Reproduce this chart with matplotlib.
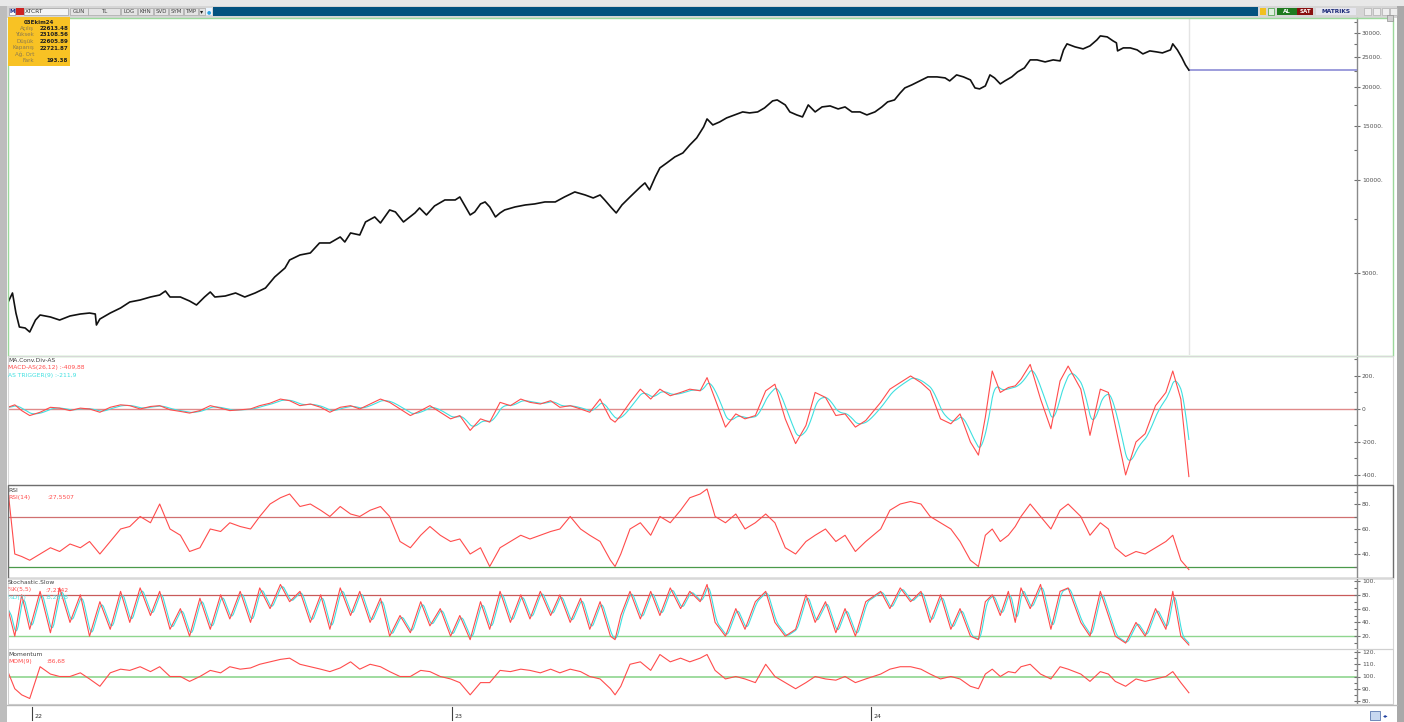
import matplotlib
matplotlib.use('Agg')
import matplotlib.pyplot as plt
import matplotlib.dates as mdates
from matplotlib.ticker import FixedLocator, NullFormatter
from matplotlib.patches import Rectangle
from matplotlib.lines import Line2D
import numpy as np
import pandas as pd

BASE = pd.Timestamp('2022-01-01')

# ---------------- data (days since 2022-01-01) ----------------
price_day = [-22,-17,-14,-11,-6,-2,3,7,16,24,
             33,42,50,55,56,59,68,77,85,94,
             103,111,116,120,129,137,143,150,155,159,
             168,177,185,194,203,211,220,224,233,242,
             246,250,259,268,272,277,285,290,298,303,
             311,316,323,333,337,343,350,359,368,372,
             377,381,385,390,394,398,403,407,411,420,
             429,437,446,455,463,472,481,488,494,498,
             504,508,513,520,529,533,537,542,546,552,
             559,566,572,578,584,587,592,598,604,611,
             618,624,631,637,644,648,655,659,665,670,
             675,681,687,694,701,707,713,720,726,733,
             739,744,750,755,759,765,772,779,787,794,
             798,804,810,816,820,824,829,833,837,842,
             846,852,857,863,868,874,881,888,894,897,
             900,907,914,920,926,929,935,940,943,944,
             949,955,961,966,972,978,983,990,992,996,
             1000,1003,1006]
price_close = [3938,4307,3709,3342,3317,3220,3520,3655,3601,3520,
               3628,3682,3709,3682,3392,3547,3709,3851,4027,4088,
               4180,4242,4371,4180,4180,4057,3938,4180,4339,4180,
               4211,4307,4180,4307,4470,4853,5190,5509,5719,5805,
               6026,6255,6255,6541,6301,6739,6639,7316,7595,7261,
               8002,7884,7316,7825,8122,7709,8244,8621,8621,8816,
               8183,7709,7884,8368,8494,8183,7595,7825,8002,8183,
               8306,8368,8494,8494,8816,9152,8948,8751,8948,8621,
               8122,7825,8306,8816,9500,9788,9289,10237,10949,11364,
               11885,12243,12993,13694,14866,15778,15088,15430,15898,16257,
               16625,16501,16625,17128,18048,18182,17516,16625,16257,16017,
               17516,16625,17257,17386,17000,17257,16625,16625,16257,16625,
               17257,17913,18182,19160,19884,20335,20952,21588,21588,21427,
               20952,21913,21588,21109,19884,19740,20183,21913,21427,20488,
               20952,21588,22408,23088,24508,24508,24144,24508,24325,26406,
               27621,27006,26604,27209,28450,29313,29095,28249,27829,26209,
               26804,26804,26406,25626,26209,26013,25819,26406,27621,26406,
               24878,23612,22721.87]

osc_day = [-21,-15,-9,-2,7,16,24,33,42,50,59,68,77,85,94,103,111,120,129,137,
           146,155,164,172,181,190,198,207,216,224,233,242,251,259,268,277,285,294,303,311,
           320,329,338,346,355,364,372,381,390,398,407,416,425,433,442,451,459,468,477,485,
           494,503,507,512,520,529,538,546,555,564,572,581,587,594,603,612,620,629,638,646,
           655,664,673,681,690,699,707,716,725,738,746,755,764,773,781,790,799,807,816,823,
           829,835,842,849,855,860,868,877,886,894,901,912,920,929,936,942,951,960,968,977,
           986,992,999,1006]
macd = [10,25,-10,-40,-20,10,5,-10,5,0,-20,10,25,20,0,15,20,-5,-15,-25,
        -10,20,5,-10,-5,0,20,35,60,50,20,30,10,-20,10,20,0,30,60,40,
        0,-40,-10,20,-20,-60,-40,-130,-60,-80,40,20,60,40,30,50,10,20,0,-20,
        60,-60,-80,-40,40,120,60,120,80,100,120,110,190,60,-110,-30,-60,-40,110,150,
        -60,-210,-100,100,70,-40,-30,-110,-70,40,120,160,200,160,110,-60,-90,-30,-200,-280,
        -50,230,100,130,140,180,270,60,-120,170,260,120,-160,120,100,-100,-400,-200,-150,20,
        100,230,60,-409.88]
rsi = [92,40,38,35,40,45,42,48,45,50,40,50,60,62,70,65,80,60,55,42,
       45,60,58,65,62,60,70,80,85,88,78,80,75,70,78,72,70,75,78,70,
       50,45,55,62,55,50,52,40,45,30,45,50,55,52,55,58,60,70,60,55,
       50,35,30,40,60,65,55,70,65,75,85,88,92,70,65,72,60,65,72,65,
       45,40,50,55,60,50,55,42,50,60,75,80,82,80,70,65,60,50,35,30,
       55,60,50,55,62,70,80,70,60,75,80,70,55,65,60,45,38,42,40,45,
       50,55,35,27.55]
stoch_k = [60,20,80,30,85,25,90,40,80,20,70,30,85,40,90,50,85,30,60,20,
           75,30,80,45,85,40,90,60,95,70,85,40,80,30,90,50,85,40,75,20,
           50,25,70,35,60,20,50,15,70,30,85,40,80,45,85,50,80,40,75,30,
           70,20,15,50,85,45,85,50,90,60,85,70,95,40,20,60,30,70,85,40,
           20,30,80,40,70,25,60,20,70,85,60,90,70,85,40,80,30,60,20,15,
           70,80,50,85,40,90,60,95,30,85,90,40,20,85,50,20,10,40,20,60,
           30,85,20,7.2142]
mom = [104,90,85,82,108,102,100,100,103,98,92,103,106,105,108,104,108,100,100,96,
       100,105,103,108,106,107,110,112,114,115,110,108,106,104,107,112,106,110,108,104,
       100,100,105,104,100,98,95,85,95,95,105,104,106,105,103,106,103,106,104,100,
       98,90,85,92,110,112,105,118,112,115,112,115,118,105,98,100,98,95,110,100,
       95,90,95,100,98,97,100,95,98,102,106,108,108,106,102,98,100,98,92,90,
       102,106,100,104,103,108,110,102,98,108,106,102,96,104,102,96,92,98,96,98,
       100,104,95,86.68]

info_date = '03Ekim24'
info_labels = ['Açılış', 'Yüksek', 'Düşük', 'Kapanış', 'Ağ. Ort', 'Fark']
info_values = ['22613.48', '23108.56', '22605.89', '22721.87', '', '193.38']
year_dates = ['2022-01-01', '2023-01-01', '2024-01-01']
year_labels = ['22', '23', '24']
price_ticks = [5000, 10000, 15000, 20000, 25000, 30000]
price_minor = [7500, 12500, 17500, 22500, 27500, 32500]

# ---------------- figure helpers ----------------
W, H = 1404, 722
fig = plt.figure(figsize=(W / 100, H / 100), dpi=100)
fig.patch.set_facecolor('white')


def frect(x0, y0, x1, y1, fc='none', ec='none', lw=0.8, z=0):
    r = Rectangle((x0 / W, 1 - y1 / H), (x1 - x0) / W, (y1 - y0) / H,
                  transform=fig.transFigure, facecolor=fc, edgecolor=ec,
                  linewidth=lw, zorder=z)
    fig.add_artist(r)


def fline(xs, ys, color, lw=1.0, z=5):
    fig.add_artist(Line2D([x / W for x in xs], [1 - y / H for y in ys],
                          transform=fig.transFigure, color=color, lw=lw, zorder=z))


def ftext(x, y, s, **kw):
    fig.text(x / W, 1 - y / H, s, **kw)


def to_dates(days):
    return BASE + pd.to_timedelta(np.asarray(days, dtype=float), unit='D')


XMIN = mdates.date2num(BASE + pd.Timedelta(days=-20.9))
XMAX = mdates.date2num(BASE + pd.Timedelta(days=1152.2))
L, R = 8, 1357
TICKC = '#707070'
LABC = '#505050'


def mkax(top, bot, ylim, ticks, labels, minor):
    ax = fig.add_axes([L / W, 1 - bot / H, (R - L) / W, (bot - top) / H])
    ax.patch.set_alpha(0)
    for s in ['left', 'top', 'bottom']:
        ax.spines[s].set_visible(False)
    ax.spines['right'].set_color('#8a8a8a')
    ax.spines['right'].set_linewidth(1.0)
    ax.set_xlim(XMIN, XMAX)
    ax.set_ylim(*ylim)
    ax.yaxis.tick_right()
    ax.yaxis.set_major_locator(FixedLocator(ticks))
    ax.set_yticklabels(labels)
    ax.yaxis.set_minor_locator(FixedLocator(minor))
    ax.yaxis.set_minor_formatter(NullFormatter())
    ax.tick_params(axis='y', which='major', direction='inout', length=5, width=0.8,
                   color=TICKC, labelsize=4.3, labelcolor=LABC, pad=1)
    ax.tick_params(axis='y', which='minor', direction='in', length=2.5, width=0.8,
                   color=TICKC)
    ax.tick_params(axis='x', which='both', bottom=False, labelbottom=False)
    return ax


RED = '#ff4c4c'
CYAN = '#3fe0e0'

# ---------------- chrome ----------------
frect(0, 0, 1404, 6, fc='#e8e8e8')
frect(0, 6, 1404, 18, fc='#d6d6d6')
frect(0, 6, 7, 722, fc='#bdbdbd')
frect(1397, 6, 1404, 722, fc='#a9a9a9')
frect(9, 8, 15, 15, fc='#ffffff', ec='#9090a0', lw=0.5, z=2)
ftext(12, 11.7, 'M', fontsize=4.2, color='#1a2a8a', ha='center', va='center', weight='bold', zorder=3)
frect(16, 8, 24, 15, fc='#cc2222', z=2)
frect(24, 8, 68, 15, fc='#f4f4f4', ec='#a0a0a0', lw=0.5, z=2)
ftext(25, 11.8, 'XTCRT', fontsize=4.2, color='#303030', va='center', zorder=3)
for bx0, bx1, lab in [(70, 88, 'GUN'), (88, 120, 'TL'), (121, 137, 'LOG'),
                      (138, 153, 'KHN'), (154, 168, 'SVD'), (169, 183, 'SYM'),
                      (184, 198, 'TMP')]:
    frect(bx0, 8, bx1, 15, fc='#e4e4e4', ec='#a8a8a8', lw=0.5, z=2)
    ftext((bx0 + bx1) / 2, 11.8, lab, fontsize=4.0, color='#404040', ha='center', va='center', zorder=3)
frect(199, 8, 205, 15, fc='#e4e4e4', ec='#a8a8a8', lw=0.5, z=2)
ftext(202, 11.5, '▾', fontsize=4.5, color='#202020', ha='center', va='center', zorder=3)
frect(206, 8, 212, 15, fc='#e8f4ff', z=2)
ftext(209, 11.5, '●', fontsize=3.5, color='#2aa0e0', ha='center', va='center', zorder=3)
frect(213, 7, 1258, 16, fc='#03527f', z=2)
frect(1260, 8, 1266, 15, fc='#f0c020', z=2)
frect(1268, 8, 1274, 15, fc='#e0f0e0', ec='#40a040', lw=0.5, z=2)
frect(1277, 8, 1297, 15, fc='#1f7a1f', z=2)
ftext(1287, 11.8, 'AL', fontsize=4.0, color='white', ha='center', va='center', weight='bold', zorder=3)
frect(1297, 8, 1313, 15, fc='#8a1010', z=2)
ftext(1305, 11.8, 'SAT', fontsize=4.0, color='white', ha='center', va='center', weight='bold', zorder=3)
frect(1316, 8, 1356, 15, fc='#e6e6ee', z=2)
ftext(1336, 11.8, 'MATRIKS', fontsize=4.2, color='#1c2a7a', ha='center', va='center', weight='bold', zorder=3)
for bx in [1364, 1373, 1382, 1390]:
    frect(bx, 8, bx + 7, 15, fc='#eeeeee', ec='#b0b0b0', lw=0.5, z=2)
frect(1387, 15, 1393, 21, fc='#d0d0d0', ec='#909090', lw=0.5, z=2)

frect(7.5, 17.5, 1393, 355.5, ec='#9bd89b', lw=1.0, z=1)
frect(7.5, 355.5, 1393, 485, ec='#d8d8d8', lw=0.8, z=1)
frect(7.5, 485, 1393, 578, ec='#6e6e6e', lw=1.0, z=1)
frect(7.5, 578, 1393, 648.5, ec='#d8d8d8', lw=0.8, z=1)
frect(7.5, 648.5, 1393, 704, ec='#d0d0d0', lw=0.8, z=1)
fline([7, 1397], [704.5, 704.5], '#b8b8b8', lw=1.0)

# ---------------- price panel ----------------
pdates = to_dates(price_day)
axp = mkax(18, 355, (2712, 33500), price_ticks, [f'{v}.' for v in price_ticks], price_minor)
axp.set_yscale('log')
axp.set_ylim(2712, 33500)
axp.yaxis.set_major_locator(FixedLocator(price_ticks))
axp.set_yticklabels([f'{v}.' for v in price_ticks])
axp.yaxis.set_minor_locator(FixedLocator(price_minor))
axp.yaxis.set_minor_formatter(NullFormatter())
axp.tick_params(axis='y', which='minor', direction='in', length=2.5, width=0.8, color=TICKC)
axp.plot(pdates, price_close, color='#111111', lw=1.2, zorder=4)
last_date = mdates.date2num(pdates[-1])
axp.axvline(last_date, color='#e4e4e4', lw=1.0, zorder=1)
axp.plot([last_date, XMAX], [price_close[-1], price_close[-1]], color='#8c8cd6', lw=1.2, zorder=3)

frect(8, 17, 70, 66, fc='#f8c224', z=6)
ftext(39, 22, info_date, fontsize=4.0, color='#202020', ha='center', va='center', weight='bold', zorder=7)
for i, (lab, val) in enumerate(zip(info_labels, info_values)):
    yy = 28.5 + i * 6.5
    ftext(34, yy, lab, fontsize=4.0, color='#8a7a50', ha='right', va='center', zorder=7)
    if val:
        ftext(68, yy, val, fontsize=4.0, color='#202020', ha='right', va='center', weight='bold', zorder=7)

# ---------------- MACD ----------------
odates = to_dates(osc_day)
ms = pd.Series(macd, index=odates).resample('D').interpolate()
trig = ms.ewm(span=9, adjust=False).mean()
axm = mkax(356, 485, (-461, 321), [-400, -200, 0, 200], ['-400.', '-200.', '0', '200.'],
           [-300, -100, 100, 300])
axm.axhline(0, color='#e08a8a', lw=1.0, zorder=1)
axm.plot(trig.index, trig.values, color=CYAN, lw=0.8, zorder=3)
axm.plot(odates, macd, color=RED, lw=0.8, zorder=4)
ftext(8, 361, 'MA.Conv.Div-AS', fontsize=4.3, color='#404040', va='center')
ftext(8, 368, 'MACD-AS(26,12) :-409,88', fontsize=4.3, color=RED, va='center')
ftext(8, 375, 'AS TRIGGER(9) :-211,9', fontsize=4.3, color=CYAN, va='center')

# ---------------- RSI ----------------
axr = mkax(486, 577, (21.6, 94.4), [40, 60, 80], ['40.', '60.', '80.'], [30, 50, 70, 90])
axr.axhline(70, color='#d07070', lw=0.9, zorder=1)
axr.axhline(30, color='#4a9a4a', lw=0.9, zorder=1)
axr.plot(odates, rsi, color=RED, lw=0.8, zorder=4)
ftext(8, 490, 'RSI', fontsize=4.3, color='#404040', va='center')
ftext(8, 497, 'RSI(14)', fontsize=4.3, color=RED, va='center')
ftext(47, 497, ':27,5507', fontsize=4.3, color=RED, va='center')

# ---------------- Stochastic ----------------
ks = pd.Series(stoch_k, index=odates).resample('D').interpolate()
kd = ks.rolling(4, min_periods=1).mean()
axs = mkax(579, 648, (2.9, 102.9), [20, 40, 60, 80, 100], ['20.', '40.', '60.', '80.', '100.'],
           [10, 30, 50, 70, 90])
axs.axhline(80, color='#c85a5a', lw=0.9, zorder=1)
axs.axhline(20, color='#8fd68f', lw=1.0, zorder=1)
axs.plot(kd.index, kd.values, color=CYAN, lw=0.8, zorder=3)
axs.plot(odates, stoch_k, color=RED, lw=0.8, zorder=4)
ftext(8, 583, 'Stochastic.Slow', fontsize=4.3, color='#404040', va='center')
ftext(8, 590, '%K(5,5)', fontsize=4.3, color=RED, va='center')
ftext(45, 590, ':7,2142', fontsize=4.3, color=RED, va='center')
ftext(8, 597, '%D(3)', fontsize=4.3, color=CYAN, va='center')
ftext(45, 597, ':8,2878', fontsize=4.3, color=CYAN, va='center')

# ---------------- Momentum ----------------
axo = mkax(649, 704, (77.5, 122.5), [80, 90, 100, 110, 120], ['80.', '90.', '100.', '110.', '120.'],
           [85, 95, 105, 115])
axo.axhline(100, color='#8fd68f', lw=1.2, zorder=1)
axo.plot(odates, mom, color=RED, lw=0.8, zorder=4)
ftext(8, 654, 'Momentum', fontsize=4.3, color='#404040', va='center')
ftext(8, 661, 'MOM(9)', fontsize=4.3, color=RED, va='center')
ftext(46, 661, ':86,68', fontsize=4.3, color=RED, va='center')

# ---------------- x axis strip ----------------
axx = fig.add_axes([L / W, 0, (R - L) / W, (722 - 705) / H])
axx.set_xlim(XMIN, XMAX)
axx.set_ylim(0, 1)
axx.axis('off')
for d, lab in zip(year_dates, year_labels):
    xd = mdates.date2num(pd.Timestamp(d))
    axx.plot([xd, xd], [0.1, 0.9], color='#404040', lw=0.8)
    axx.text(xd + 2, 0.35, lab, fontsize=4.5, color='#303030', ha='left', va='center')

frect(1370, 711, 1380, 720, fc='#c8d8f0', ec='#4060a0', lw=0.5, z=2)
ftext(1386, 715.5, '◂▸', fontsize=4.0, color='#2040a0', ha='center', va='center')

fig.savefig('out.png', dpi=100)
